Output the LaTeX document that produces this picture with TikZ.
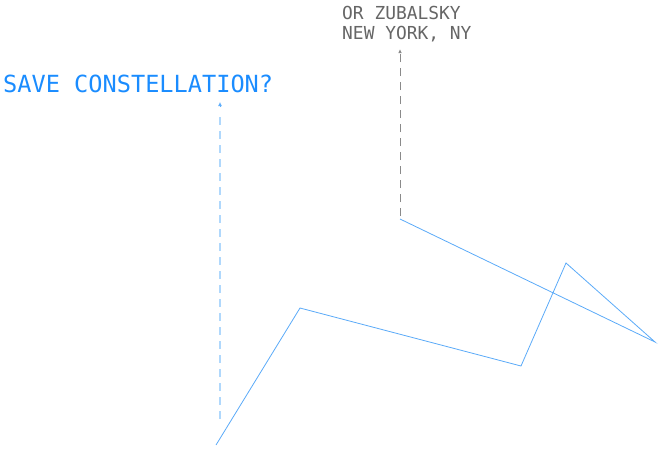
\documentclass[tikz,border=0pt]{standalone}
\usepackage{fontspec}
\setmonofont{DejaVu Sans Mono}
\usetikzlibrary{arrows.meta}
\definecolor{lineblue}{HTML}{5AAAF8}
\definecolor{textblue}{HTML}{1A8CFF}
\definecolor{dashblue}{HTML}{B0D8FC}
\definecolor{tipblue}{HTML}{5FAEFB}
\definecolor{textgray}{HTML}{666666}
\definecolor{dashgray}{HTML}{8A8A8A}
\tikzset{
  bluetext/.style={anchor=base west, inner sep=0pt, text=textblue, font=\ttfamily\fontsize{23.6}{28}\selectfont},
  graytext/.style={anchor=base west, inner sep=0pt, text=textgray, font=\ttfamily\fontsize{17.9}{20}\selectfont, align=left},
  trail/.style={draw=lineblue, line width=0.8pt, line join=miter},
  bluedash/.style={draw=dashblue, line width=1.5pt, dash pattern=on 8pt off 6pt},
  bluetipline/.style={draw=tipblue, line width=1pt, -{Latex[length=4pt,width=4pt]}},
  graydash/.style={draw=dashgray, line width=0.8pt, dash pattern=on 8pt off 6pt, -{Latex[length=4pt,width=3.5pt]}}
}
\begin{document}
\begin{tikzpicture}[x=1pt,y=-1pt]
\useasboundingbox (0,0) rectangle (658,448);
\node[bluetext] (save) at (3,92) {SAVE CONSTELLATION?};
\node[graytext] (zub) at (342,19) {OR ZUBALSKY};
\node[graytext] (ny) at (342,39) {NEW YORK, NY};
\coordinate (p1) at (216,445);
\coordinate (p2) at (300,308);
\coordinate (p3) at (521,366);
\coordinate (p4) at (566,263);
\coordinate (p5) at (655,342);
\coordinate (p6) at (400,219);
\coordinate (b0) at (220,419);
\coordinate (b1) at (220,116);
\coordinate (b2) at (220,107);
\coordinate (bt) at (220,102);
\coordinate (g0) at (400,216);
\coordinate (g1) at (400,49);
\draw[trail] (p1) -- (p2) -- (p3) -- (p4) -- (p5) -- (p6);
\draw[bluedash] (b0) -- (b1);
\draw[bluetipline] (b2) -- (bt);
\draw[graydash] (g0) -- (g1);
\end{tikzpicture}
\end{document}
